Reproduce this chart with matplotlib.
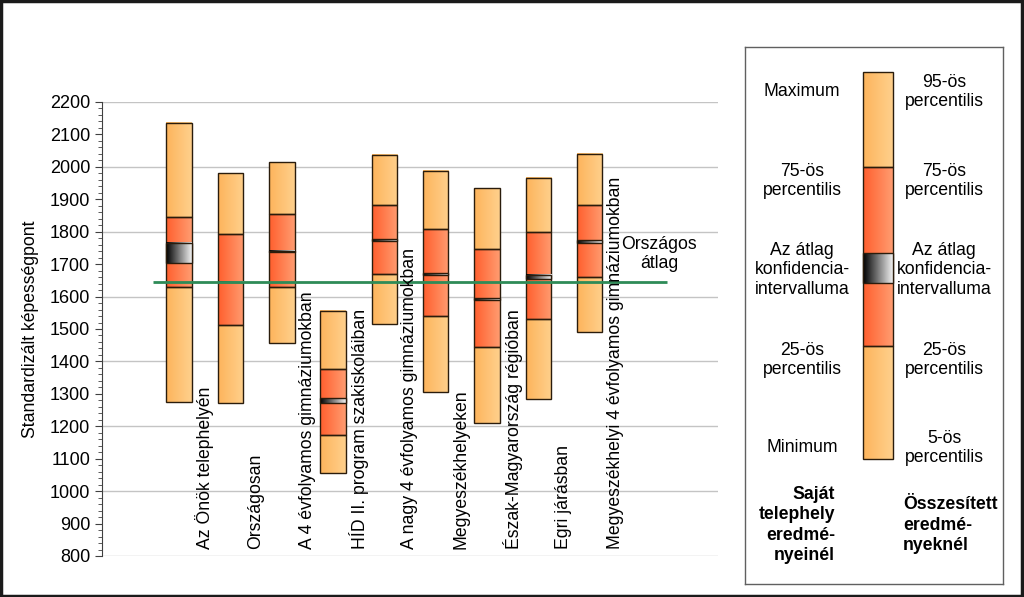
import numpy as np
import matplotlib
matplotlib.use("Agg")
import matplotlib.pyplot as plt
from matplotlib.colors import LinearSegmentedColormap
from matplotlib.patches import Rectangle

plt.rcParams['font.family'] = ['Liberation Sans', 'DejaVu Sans']
plt.rcParams['font.size'] = 12.7

# data
cats = ['Az Önök telephelyén', 'Országosan', 'A 4 évfolyamos gimnáziumokban',
        'HÍD II. program szakiskoláiban', 'A nagy 4 évfolyamos gimnáziumokban',
        'Megyeszékhelyeken', 'Észak-Magyarország régióban', 'Egri járásban',
        'Megyeszékhelyi 4 évfolyamos gimnáziumokban']
low = [1275, 1272, 1457, 1056, 1515, 1306, 1210, 1284, 1491]
p25 = [1630, 1512, 1630, 1173, 1670, 1540, 1445, 1531, 1660]
p75 = [1845, 1793, 1855, 1377, 1882, 1808, 1747, 1799, 1882]
high = [2135, 1981, 2015, 1556, 2037, 1987, 1935, 1966, 2040]
ci_lo = [1703, 1644, 1738, 1272, 1772, 1667, 1590, 1654, 1765]
ci_hi = [1765, 1646, 1742, 1287, 1777, 1672, 1596, 1667, 1774]
orszagos = 1645

light = LinearSegmentedColormap.from_list('light', ['#FDB45C', '#FFD08C'])
red = LinearSegmentedColormap.from_list('red', ['#FF5F2E', '#FF9C70'])
ci = LinearSegmentedColormap.from_list('ci', ['#000000', '#F0F0F0'])
edge = '#2A1C0C'
grad = np.linspace(0, 1, 64)[None, :]


def seg(ax, x0, x1, y0, y1, cmap, z=2):
    ax.imshow(grad, cmap=cmap, extent=(x0, x1, y0, y1), aspect='auto',
              interpolation='bilinear', zorder=z)
    ax.add_patch(Rectangle((x0, min(y0, y1)), x1 - x0, abs(y1 - y0), fill=False,
                           edgecolor=edge, lw=1, zorder=z + 0.5))


fig = plt.figure(figsize=(10.24, 5.97), dpi=100)

ax = fig.add_axes([102/1024, 1-556/597, 616/1024, 454/597])
w = 0.5
for i in range(len(cats)):
    x = i + 1
    seg(ax, x-w/2, x+w/2, low[i], p25[i], light)
    seg(ax, x-w/2, x+w/2, p25[i], p75[i], red)
    seg(ax, x-w/2, x+w/2, p75[i], high[i], light)
    seg(ax, x-w/2, x+w/2, ci_lo[i], ci_hi[i], ci, z=3)
    ax.text(x + 0.5, 823, cats[i], rotation=90, ha='center', va='bottom', zorder=6)

ax.hlines(orszagos, 0.5, 10.5, color='#2E8B57', lw=2, zorder=5)
ax.text(10.35, 1731, 'Országos\nátlag', ha='center', va='center', multialignment='center')

ax.set_xlim(-0.5, 11.5)
ax.set_ylim(800, 2200)
ax.set_yticks(np.arange(800, 2201, 100))
ax.set_yticks(np.arange(800, 2201, 20), minor=True)
for yy in np.arange(800, 2201, 200):
    ax.axhline(yy, color='#C4C4C4', lw=1, zorder=0)
ax.set_xticks([])
for s in ['top', 'right', 'bottom']:
    ax.spines[s].set_visible(False)
ax.spines['left'].set_color('#404040')
ax.tick_params(axis='y', which='major', length=5, color='#404040', labelsize=13)
ax.tick_params(axis='y', which='minor', length=3, color='#404040')
ax.set_ylabel('Standardizált képességpont', labelpad=8)

# legend panel, laid out in pixel units
lg = fig.add_axes([745/1024, 1-584/597, 258/1024, 537/597])
lg.set_xlim(745, 1003)
lg.set_ylim(584, 47)
lg.set_xticks([])
lg.set_yticks([])
for s in lg.spines.values():
    s.set_color('#606060')
    s.set_linewidth(1)

bx0, bx1 = 863, 893
seg(lg, bx0, bx1, 459, 346, light)
seg(lg, bx0, bx1, 346, 167, red)
seg(lg, bx0, bx1, 167, 72, light)
seg(lg, bx0, bx1, 283, 253, ci, z=3)

left_txt = ['Maximum', '75-ös\npercentilis', 'Az átlag\nkonfidencia-\nintervalluma',
            '25-ös\npercentilis', 'Minimum']
right_txt = ['95-ös\npercentilis', '75-ös\npercentilis', 'Az átlag\nkonfidencia-\nintervalluma',
             '25-ös\npercentilis', '5-ös\npercentilis']
txt_y = [92, 181, 270, 360, 448]
for t, yy in zip(left_txt, txt_y):
    lg.text(802, yy, t, ha='center', va='center', multialignment='center', linespacing=1.2)
for t, yy in zip(right_txt, txt_y):
    lg.text(944, yy, t, ha='center', va='center', multialignment='center', linespacing=1.2)
lg.text(835, 525, 'Saját\ntelephely\neredmé-\nnyeinél', ha='right', va='center',
        multialignment='right', fontweight='bold', linespacing=1.25)
lg.text(903, 525, 'Összesített\neredmé-\nnyeknél', ha='left', va='center',
        multialignment='left', fontweight='bold', linespacing=1.25)

fig.patches.append(Rectangle((0.001, 0.002), 0.997, 0.996, transform=fig.transFigure,
                             fill=False, edgecolor='#1A1A1A', lw=2.5))

fig.savefig('out.png', dpi=100)
